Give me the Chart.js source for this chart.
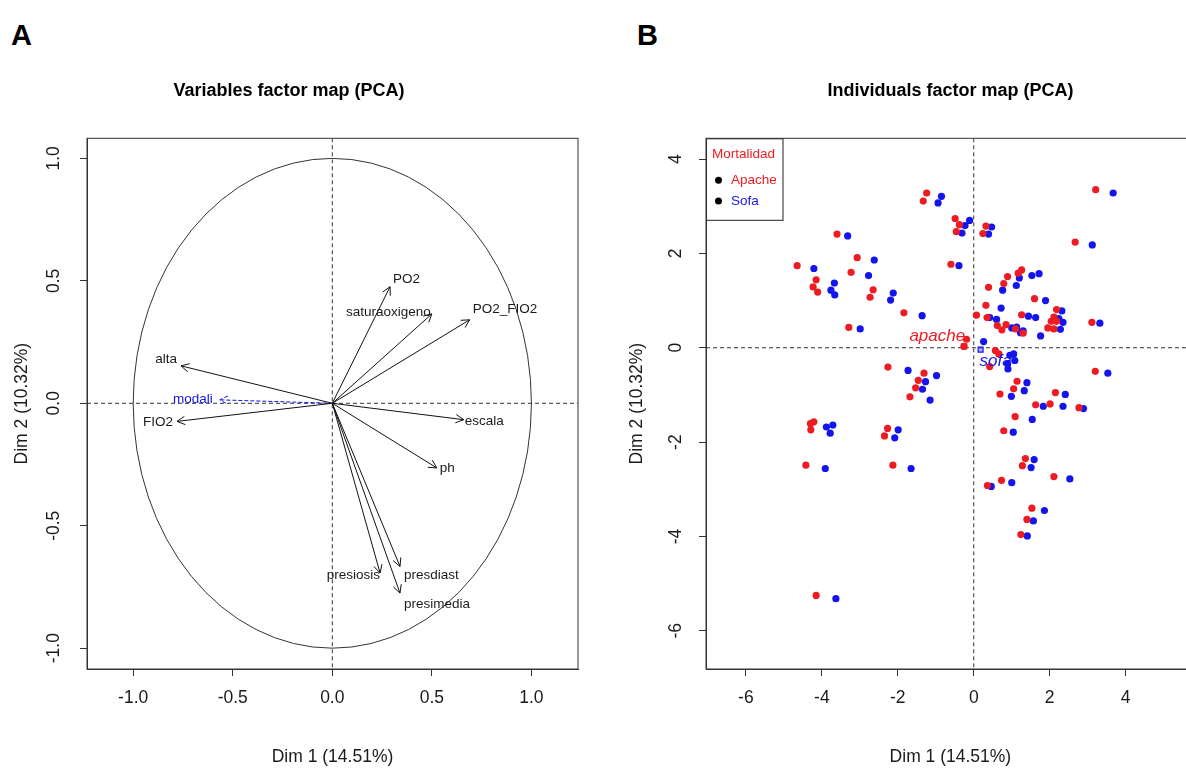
<!DOCTYPE html>
<html>
<head>
<meta charset="utf-8">
<script src="https://cdn.jsdelivr.net/npm/chart.js@4.4.0/dist/chart.umd.min.js"></script>
<style>
html, body { margin: 0; padding: 0; background: #fff; overflow: hidden; }
#wrap { position: relative; width: 1186px; height: 771px; overflow: hidden; }
canvas { position: absolute; top: 0; }
.tag { position: absolute; font: bold 29px "Liberation Sans", Arial, sans-serif; line-height: 1; color: #000; }
</style>
</head>
<body>
<div id="wrap">
  <div class="tag" style="left:11px;top:21px">A</div>
  <div class="tag" style="left:637px;top:21px">B</div>
  <canvas id="varMap" width="600" height="771" style="left:0"></canvas>
  <canvas id="indMap" width="600" height="771" style="left:600px"></canvas>
</div>
<script>
// ---- panel A: variables (coordinates on Dim 1 / Dim 2) ----
const varNames = ['PO2', 'saturaoxigeno', 'PO2_FIO2', 'escala', 'ph', 'presiosis', 'presdiast', 'presimedia', 'alta', 'FIO2', 'modali'];
const varDim1 = [0.29, 0.50, 0.69, 0.66, 0.525, 0.24, 0.34, 0.34, -0.76, -0.78, -0.565];
const varDim2 = [0.476, 0.365, 0.341, -0.067, -0.264, -0.693, -0.666, -0.775, 0.153, -0.074, 0.014];
const supplementaryVar = 'modali';
// label anchor next to the arrow tip: [textAlign, dx, dy]
const varLabelPlace = [
    ['left', 3, -7], ['right', -1, -2], ['left', 3, -10], ['left', 1, 2], ['left', 3, 0],
    ['right', 0, 2], ['left', 4, 9], ['left', 4, 11], ['right', -4, -7], ['right', -4, 1], ['right', -7, -1]
];
const varTicks = [-1, -0.5, 0, 0.5, 1];

// ---- panel B: individuals ----
const apacheDim1 = [-1.24, -1.33, -3.60, -3.07, -4.65, -3.23, -4.15, -4.23, -4.11, -2.65, -2.73, -1.84, -3.29,
    3.21, -0.49, -0.38, -0.46, 0.32, 0.24, 2.67, -0.60, 0.89, 1.17, 1.26, 0.79, 0.39, 0.32, 1.60, 0.07, 0.35,
    1.26, 0.62, 0.85, 0.74, 1.10, 1.30, 2.18, 2.11, 2.04, 2.18, 1.95, 2.11, 3.11, -0.19, -0.26,
    -2.26, -1.31, -1.46, -1.53, -1.68, -4.21, -4.30, -4.29, -2.27, -2.35, -4.42, -2.13, -4.15,
    0.57, 0.66, 0.42, 3.20, 1.14, 1.05, 0.69, 2.15, 1.63, 2.01, 2.77, 1.09, 0.79, 1.36, 1.28, 0.36,
    0.73, 2.11, 1.53, 1.40, 1.24];
const apacheDim2 = [3.28, 3.11, 2.41, 1.91, 1.74, 1.60, 1.44, 1.29, 1.18, 1.23, 1.07, 0.74, 0.43,
    3.35, 2.74, 2.61, 2.46, 2.58, 2.42, 2.24, 1.77, 1.51, 1.58, 1.65, 1.36, 1.28, 0.90, 1.04, 0.69, 0.64,
    0.70, 0.47, 0.49, 0.38, 0.40, 0.31, 0.81, 0.65, 0.56, 0.56, 0.42, 0.40, 0.54, 0.18, 0.03,
    -0.41, -0.54, -0.69, -0.85, -1.04, -1.57, -1.61, -1.74, -1.71, -1.87, -2.49, -2.49, -5.25,
    -0.06, -0.13, -0.40, -0.50, -0.71, -0.87, -0.98, -0.95, -1.21, -1.19, -1.27, -1.46, -1.76, -2.35, -2.50, -2.92,
    -2.81, -2.73, -3.40, -3.64, -3.96];
const sofaDim1 = [-0.94, -0.85, -3.32, -2.62, -4.21, -2.77, -3.67, -3.76, -3.66, -2.12, -2.19, -1.36, -2.99,
    3.67, -0.11, -0.23, -0.31, 0.47, 0.39, 3.12, -0.39, 1.53, 1.72, 1.20, 1.12, 0.76, 1.89, 0.72, 0.42, 0.60,
    1.44, 1.63, 2.32, 2.24, 2.35, 2.28, 1.76, 3.32, 1.00, 1.13, 1.30, 1.23, 0.26,
    -1.73, -0.98, -1.27, -1.35, -1.15, -3.88, -3.71, -3.78, -1.99, -2.08, -3.91, -1.65, -3.63,
    0.95, 1.05, 1.08, 0.89, 0.90, 3.53, 1.40, 1.33, 0.99, 2.41, 1.83, 2.35, 2.89, 1.54, 1.04, 1.59, 1.51,
    0.46, 1.00, 2.53, 1.86, 1.57, 1.41];
const sofaDim2 = [3.07, 3.21, 2.37, 1.86, 1.68, 1.53, 1.37, 1.22, 1.12, 1.16, 1.01, 0.68, 0.40,
    3.28, 2.70, 2.59, 2.43, 2.56, 2.41, 2.18, 1.74, 1.53, 1.57, 1.48, 1.32, 1.22, 1.00, 0.84, 0.64, 0.60,
    0.67, 0.64, 0.78, 0.62, 0.54, 0.39, 0.25, 0.52, 0.42, 0.44, 0.36, 0.32, 0.13,
    -0.48, -0.59, -0.72, -0.88, -1.11, -1.68, -1.64, -1.81, -1.74, -1.91, -2.56, -2.56, -5.32,
    -0.16, -0.13, -0.27, -0.34, -0.45, -0.54, -0.74, -0.91, -1.03, -0.99, -1.24, -1.24, -1.29, -1.52, -1.79, -2.37, -2.54,
    -2.94, -2.86, -2.78, -3.45, -3.67, -3.99];
const catNames = ['apache', 'sofa'];
const catDim1 = [-0.25, 0.18];
const catDim2 = [0.03, -0.04];
const catLabelShift = [[-27, -10], [15, 12]];
const indTicks = [-6, -4, -2, 0, 2, 4];

const fontFam = '"Liberation Sans", Arial, sans-serif';
const axisCol = '#333';
const textCol = '#1a1a1a';
const red = '#ee1c22';
const blue = '#1414ee';

const zeroLines = {
    id: 'zeroLines',
    beforeDatasetsDraw(chart) {
        const {ctx, chartArea: a, scales: {x, y}} = chart;
        const x0 = x.getPixelForValue(0), y0 = y.getPixelForValue(0);
        ctx.save();
        ctx.strokeStyle = axisCol;
        ctx.lineWidth = 1;
        ctx.setLineDash([4, 3]);
        ctx.beginPath();
        ctx.moveTo(a.left, y0); ctx.lineTo(a.right, y0);
        ctx.moveTo(x0, a.top); ctx.lineTo(x0, a.bottom);
        ctx.stroke();
        ctx.restore();
    }
};

const unitCircle = {
    id: 'unitCircle',
    beforeDatasetsDraw(chart) {
        const {ctx, scales: {x, y}} = chart;
        const cx = x.getPixelForValue(0), cy = y.getPixelForValue(0);
        ctx.save();
        ctx.strokeStyle = axisCol;
        ctx.lineWidth = 1;
        ctx.beginPath();
        ctx.ellipse(cx, cy, x.getPixelForValue(1) - cx, cy - y.getPixelForValue(1), 0, 0, 2 * Math.PI);
        ctx.stroke();
        ctx.restore();
    }
};

const frame = {
    id: 'frame',
    afterDraw(chart) {
        const {ctx, chartArea: a} = chart;
        ctx.save();
        ctx.strokeStyle = axisCol;
        ctx.lineWidth = 1;
        ctx.strokeRect(a.left, a.top, a.right - a.left, a.bottom - a.top);
        ctx.restore();
    }
};

const arrowHeads = {
    id: 'arrowHeads',
    afterDatasetsDraw(chart) {
        const ctx = chart.ctx;
        const len = 9, spread = Math.PI / 6.5;
        chart.data.datasets.forEach((ds, i) => {
            const [p0, p1] = chart.getDatasetMeta(i).data;
            const ang = Math.atan2(p1.y - p0.y, p1.x - p0.x);
            ctx.save();
            ctx.strokeStyle = ds.borderColor;
            ctx.lineWidth = 1;
            ctx.setLineDash(ds.borderDash || []);
            ctx.beginPath();
            ctx.moveTo(p1.x - len * Math.cos(ang - spread), p1.y - len * Math.sin(ang - spread));
            ctx.lineTo(p1.x, p1.y);
            ctx.lineTo(p1.x - len * Math.cos(ang + spread), p1.y - len * Math.sin(ang + spread));
            ctx.stroke();
            const [align, dx, dy] = varLabelPlace[i];
            ctx.setLineDash([]);
            ctx.font = '13.5px ' + fontFam;
            ctx.fillStyle = ds.label === supplementaryVar ? blue : textCol;
            ctx.textAlign = align;
            ctx.textBaseline = 'middle';
            ctx.fillText(ds.label, p1.x + dx, p1.y + dy);
            ctx.restore();
        });
    }
};

const catLabels = {
    id: 'catLabels',
    afterDatasetsDraw(chart) {
        const ctx = chart.ctx;
        ctx.save();
        ctx.font = 'italic 17px ' + fontFam;
        ctx.textAlign = 'center';
        ctx.textBaseline = 'middle';
        catNames.forEach((name, k) => {
            const p = chart.getDatasetMeta(2 + k).data[0];
            ctx.fillStyle = chart.data.datasets[2 + k].borderColor;
            ctx.fillText(name, p.x + catLabelShift[k][0], p.y + catLabelShift[k][1]);
        });
        ctx.restore();
    }
};

const mortLegend = {
    id: 'mortLegend',
    afterDatasetsDraw(chart) {
        const {ctx, chartArea: a} = chart;
        const x = a.left, y = a.top;
        ctx.save();
        ctx.fillStyle = '#fff';
        ctx.fillRect(x, y, 77, 82);
        ctx.strokeStyle = '#222';
        ctx.lineWidth = 1;
        ctx.strokeRect(x + 0.5, y + 0.5, 76.5, 81.5);
        ctx.font = '13.5px ' + fontFam;
        ctx.textAlign = 'left';
        ctx.textBaseline = 'middle';
        ctx.fillStyle = red;
        ctx.fillText('Mortalidad', x + 6, y + 16);
        chart.data.datasets.slice(0, 2).forEach((ds, k) => {
            const yy = y + 42 + k * 20.7;
            ctx.fillStyle = '#000';
            ctx.beginPath();
            ctx.arc(x + 12.5, yy, 3.5, 0, 2 * Math.PI);
            ctx.fill();
            ctx.fillStyle = ds.backgroundColor;
            ctx.fillText(ds.label, x + 25, yy);
        });
        ctx.restore();
    }
};

const tickFont = { family: fontFam, size: 17.5 };
const titleFont = { family: fontFam, size: 17.5 };

function xAxis(min, max, ticks, fmt) {
    return {
        type: 'linear', min: min, max: max,
        afterBuildTicks: s => { s.ticks = ticks.map(v => ({ value: v })); },
        afterFit: s => { s.height = 102; },
        ticks: { callback: fmt, font: tickFont, color: textCol, padding: 12, autoSkip: false, maxRotation: 0 },
        grid: { drawOnChartArea: false, tickLength: 7, color: axisCol },
        border: { color: axisCol },
        title: { display: true, text: 'Dim 1 (14.51%)', font: titleFont, color: textCol, padding: { top: 0, bottom: 3 } }
    };
}

function yAxis(min, max, ticks, fmt, width, labelPad, titlePad) {
    return {
        type: 'linear', min: min, max: max,
        afterBuildTicks: s => { s.ticks = ticks.map(v => ({ value: v })); },
        afterFit: s => { s.width = width; },
        ticks: { callback: fmt, font: tickFont, color: textCol, padding: labelPad, autoSkip: false,
            minRotation: 90, maxRotation: 90, crossAlign: 'center' },
        grid: { drawOnChartArea: false, tickLength: 7, color: axisCol },
        border: { color: axisCol },
        title: { display: true, text: 'Dim 2 (10.32%)', font: titleFont, color: textCol, padding: { top: titlePad, bottom: 0 } }
    };
}

function mainTitle(text, fullSize) {
    return {
        display: true, text: text, fullSize: fullSize, color: '#000',
        font: { family: fontFam, size: 18, weight: 'bold' },
        padding: { top: 80, bottom: 36.7 }
    };
}

new Chart(document.getElementById('varMap'), {
    type: 'line',
    data: {
        datasets: varNames.map((name, i) => ({
            label: name,
            data: [{ x: 0, y: 0 }, { x: varDim1[i], y: varDim2[i] }],
            borderColor: name === supplementaryVar ? blue : '#111',
            borderDash: name === supplementaryVar ? [4, 2] : [],
            borderWidth: 1,
            pointRadius: 0,
            tension: 0,
            fill: false
        }))
    },
    options: {
        responsive: false,
        animation: false,
        events: [],
        layout: { padding: { left: 0, right: 22, top: 0, bottom: 0 } },
        plugins: {
            legend: { display: false },
            tooltip: { enabled: false },
            title: mainTitle('Variables factor map (PCA)', true)
        },
        scales: {
            x: xAxis(-1.232, 1.234, varTicks, v => v.toFixed(1)),
            y: yAxis(-1.085, 1.082, varTicks, v => v.toFixed(1), 87, 10.4, 11.8)
        }
    },
    plugins: [zeroLines, unitCircle, arrowHeads, frame]
});

new Chart(document.getElementById('indMap'), {
    type: 'scatter',
    data: {
        datasets: [
            {
                label: 'Apache',
                data: apacheDim1.map((v, i) => ({ x: v, y: apacheDim2[i] })),
                backgroundColor: red, borderWidth: 0, pointRadius: 3.6
            },
            {
                label: 'Sofa',
                data: sofaDim1.map((v, i) => ({ x: v, y: sofaDim2[i] })),
                backgroundColor: blue, borderWidth: 0, pointRadius: 3.6
            },
            {
                label: catNames[0],
                data: [{ x: catDim1[0], y: catDim2[0] }],
                pointStyle: 'rect', pointRadius: 3.5, borderWidth: 1.2,
                borderColor: red, backgroundColor: 'rgba(238,28,34,0.25)'
            },
            {
                label: catNames[1],
                data: [{ x: catDim1[1], y: catDim2[1] }],
                pointStyle: 'rect', pointRadius: 3.5, borderWidth: 1.2,
                borderColor: blue, backgroundColor: 'rgba(20,20,238,0.35)'
            }
        ]
    },
    options: {
        responsive: false,
        animation: false,
        events: [],
        layout: { padding: { left: 0, right: 5, top: 0, bottom: 0 } },
        plugins: {
            legend: { display: false },
            tooltip: { enabled: false },
            title: mainTitle('Individuals factor map (PCA)', false)
        },
        scales: {
            x: xAxis(-7.05, 5.82, indTicks, v => String(v)),
            y: yAxis(-6.81, 4.44, indTicks, v => String(v), 106, 15.4, 26.8)
        }
    },
    plugins: [zeroLines, catLabels, mortLegend, frame]
});
</script>
</body>
</html>
